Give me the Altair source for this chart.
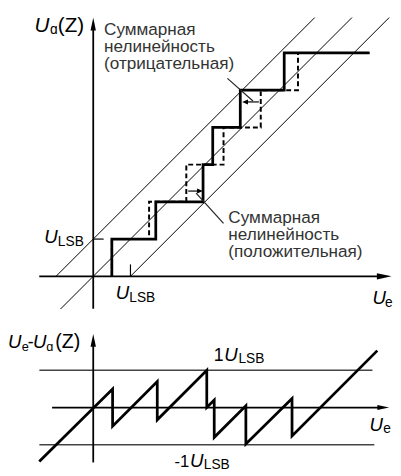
import altair as alt
import pandas as pd

# ---------------- data (in LSB units) ----------------
# top panel: actual (solid) and ideal (dashed) transfer staircase
actual_x = [0.5, 0.5, 1.68, 1.68, 2.95, 2.95, 3.21, 3.21, 3.95, 3.95, 5.13, 5.13, 7.42]
actual_y = [0, 1, 1, 2, 2, 3, 3, 4, 4, 5, 5, 6, 6]
ideal_x = [0.5, 0.5, 1.5, 1.5, 2.5, 2.5, 3.5, 3.5, 4.5, 4.5, 5.5, 5.5, 7.42]
ideal_y = [0, 1, 1, 2, 2, 3, 3, 4, 4, 5, 5, 6, 6]
# thin 45-degree reference lines (ideal line and +/-1 LSB bounds)
diag_names = ["upper", "upper", "center", "center", "lower", "lower"]
diag_x = [-1.0, 5.95, -0.88, 6.95, 1.0, 7.95]
diag_y = [0.0, 6.95, -0.88, 6.95, 0.0, 6.95]

# bottom panel: quantisation error Ue - Ua(Z)
err_x = [-1.45, 0.52, 0.52, 1.72, 1.72, 3.05, 3.05, 3.25, 3.25, 4.1, 4.1, 5.34, 5.34, 7.63]
err_y = [-1.45, 0.5, -0.5, 0.7, -0.33, 1.0, 0.0, 0.2, -0.8, 0.05, -0.98, 0.24, -0.76, 1.53]

# ---------------- scales ----------------
W = 392
H_TOP, H_BOT = 305, 163
xs = alt.Scale(domain=[-2.2895, 8.026], nice=False, zero=False)
ys_top = alt.Scale(domain=[-0.947, 7.079], nice=False, zero=False)
ys_bot = alt.Scale(domain=[-1.711, 2.579], nice=False, zero=False)

FONT = "Liberation Sans"
ARROW_SLIM = "M1,0L-1,-0.42L-1,0.42Z"
ARROW_WIDE = "M1,0L-1,-0.85L-1,0.85Z"


def line_df(xv, yv, names=None):
    d = pd.DataFrame({"x": xv, "y": yv, "i": list(range(len(xv)))})
    d["g"] = names if names is not None else "a"
    return d


def line_layer(df, ys, **kw):
    return alt.Chart(df).mark_line(color="black", **kw).encode(
        x=alt.X("x:Q", scale=xs, axis=None),
        y=alt.Y("y:Q", scale=ys, axis=None),
        detail="g:N",
        order="i:Q",
    )


def rule_layer(rows, ys, **kw):
    df = pd.DataFrame(rows, columns=["x", "y", "x2", "y2", "c"])
    return alt.Chart(df).mark_rule(**kw).encode(
        x=alt.X("x:Q", scale=xs, axis=None),
        y=alt.Y("y:Q", scale=ys, axis=None),
        x2="x2:Q",
        y2="y2:Q",
        color=alt.Color("c:N", scale=None),
    )


def head_layer(rows, ys, shape):
    df = pd.DataFrame(rows, columns=["x", "y", "angle", "size"])
    return alt.Chart(df).mark_point(
        shape=shape, filled=True, color="black", opacity=1, strokeWidth=0
    ).encode(
        x=alt.X("x:Q", scale=xs, axis=None),
        y=alt.Y("y:Q", scale=ys, axis=None),
        angle=alt.Angle("angle:Q", scale=None),
        size=alt.Size("size:Q", scale=None),
    )


def text_layer(rows, ys, italic=False, color="black"):
    df = pd.DataFrame(rows, columns=["x", "y", "t", "size"])
    kw = dict(font=FONT, align="left", baseline="alphabetic", color=color)
    if italic:
        kw["fontStyle"] = "italic"
    return alt.Chart(df).mark_text(**kw).encode(
        x=alt.X("x:Q", scale=xs, axis=None),
        y=alt.Y("y:Q", scale=ys, axis=None),
        text="t:N",
        size=alt.Size("size:Q", scale=None),
    )


# ---------------- top panel ----------------
top_layers = [
    line_layer(line_df(diag_x, diag_y, diag_names), ys_top, strokeWidth=1),
    line_layer(line_df(ideal_x, ideal_y), ys_top, strokeWidth=2, strokeDash=[5, 3]),
    line_layer(line_df(actual_x, actual_y), ys_top, strokeWidth=2.8),
    rule_layer([
        [-1.45, 0, 7.8, 0, "black"],
        [0, -0.87, 0, 6.8, "black"],
    ], ys_top, strokeWidth=1.8),
    rule_layer([
        [1, 0, 1, 0.32, "black"],
        [0, 1, 0.28, 1, "black"],
        [2.55, 2.29, 2.85, 2.29, "black"],
        [4.45, 4.684, 4.1, 4.684, "black"],
        [2.763, 2.237, 3.5, 1.421, "#222"],
        [3.605, 5.316, 4.29, 4.71, "#222"],
    ], ys_top, strokeWidth=1.2),
    head_layer([
        [7.816, 0, 0, 225],
        [0, 6.776, 270, 169],
    ], ys_top, ARROW_SLIM),
    head_layer([
        [2.868, 2.29, 0, 36],
        [4.079, 4.684, 180, 36],
    ], ys_top, ARROW_WIDE),
    text_layer([
        [-1.579, 6.553, "U", 21],
        [-1.316, 0.895, "U", 19],
        [0.605, -0.605, "U", 19],
        [7.5, -0.737, "U", 19],
    ], ys_top, italic=True),
    text_layer([
        [-1.158, 6.5, "ɑ", 14],
        [-0.95, 6.553, "(Z)", 21],
        [-0.95, 0.816, "LSB", 14],
        [0.97, -0.684, "LSB", 14],
        [7.84, -0.816, "e", 14],
    ], ys_top),
    text_layer([
        [0.29, 6.474, "Суммарная", 17.5],
        [0.29, 6.026, "нелинейность", 17.5],
        [0.29, 5.579, "(отрицательная)", 17.5],
        [3.63, 1.421, "Суммарная", 17.5],
        [3.63, 0.974, "нелинейность", 17.5],
        [3.63, 0.526, "(положительная)", 17.5],
    ], ys_top, color="#333"),
]
top = alt.layer(*top_layers).properties(width=W, height=H_TOP)

# ---------------- bottom panel ----------------
bot_layers = [
    rule_layer([
        [-1.447, 1, 7.5, 1, "#444"],
        [-1.447, -1, 7.55, -1, "#444"],
    ], ys_bot, strokeWidth=1.5),
    rule_layer([
        [-1.105, 0, 7.7, 0, "black"],
        [0, -1.474, 0, 1.7, "black"],
    ], ys_bot, strokeWidth=1.8),
    line_layer(line_df(err_x, err_y), ys_bot, strokeWidth=2.8),
    head_layer([
        [7.79, 0, 0, 144],
        [0, 1.803, 270, 169],
    ], ys_bot, ARROW_SLIM),
    text_layer([
        [-2.289, 1.605, "U", 19],
        [-1.62, 1.605, "U", 19],
        [3.52, 1.263, "U", 19],
        [2.6, -1.605, "U", 19],
        [7.42, -0.632, "U", 19],
    ], ys_bot, italic=True),
    text_layer([
        [-1.92, 1.526, "e", 13],
        [-1.76, 1.605, "-", 18],
        [-1.26, 1.526, "ɑ", 13],
        [-1.02, 1.605, "(Z)", 20],
        [3.24, 1.263, "1", 18],
        [3.9, 1.184, "LSB", 14],
        [2.18, -1.605, "-1", 17],
        [2.97, -1.658, "LSB", 14],
        [7.79, -0.684, "e", 14],
    ], ys_bot),
]
bottom = alt.layer(*bot_layers).properties(width=W, height=H_BOT)

chart = (
    alt.vconcat(top, bottom, spacing=0)
    .properties(padding=0)
    .configure_view(stroke=None)
)

chart.save("out.html", embed_options={"renderer": "svg", "actions": False})
